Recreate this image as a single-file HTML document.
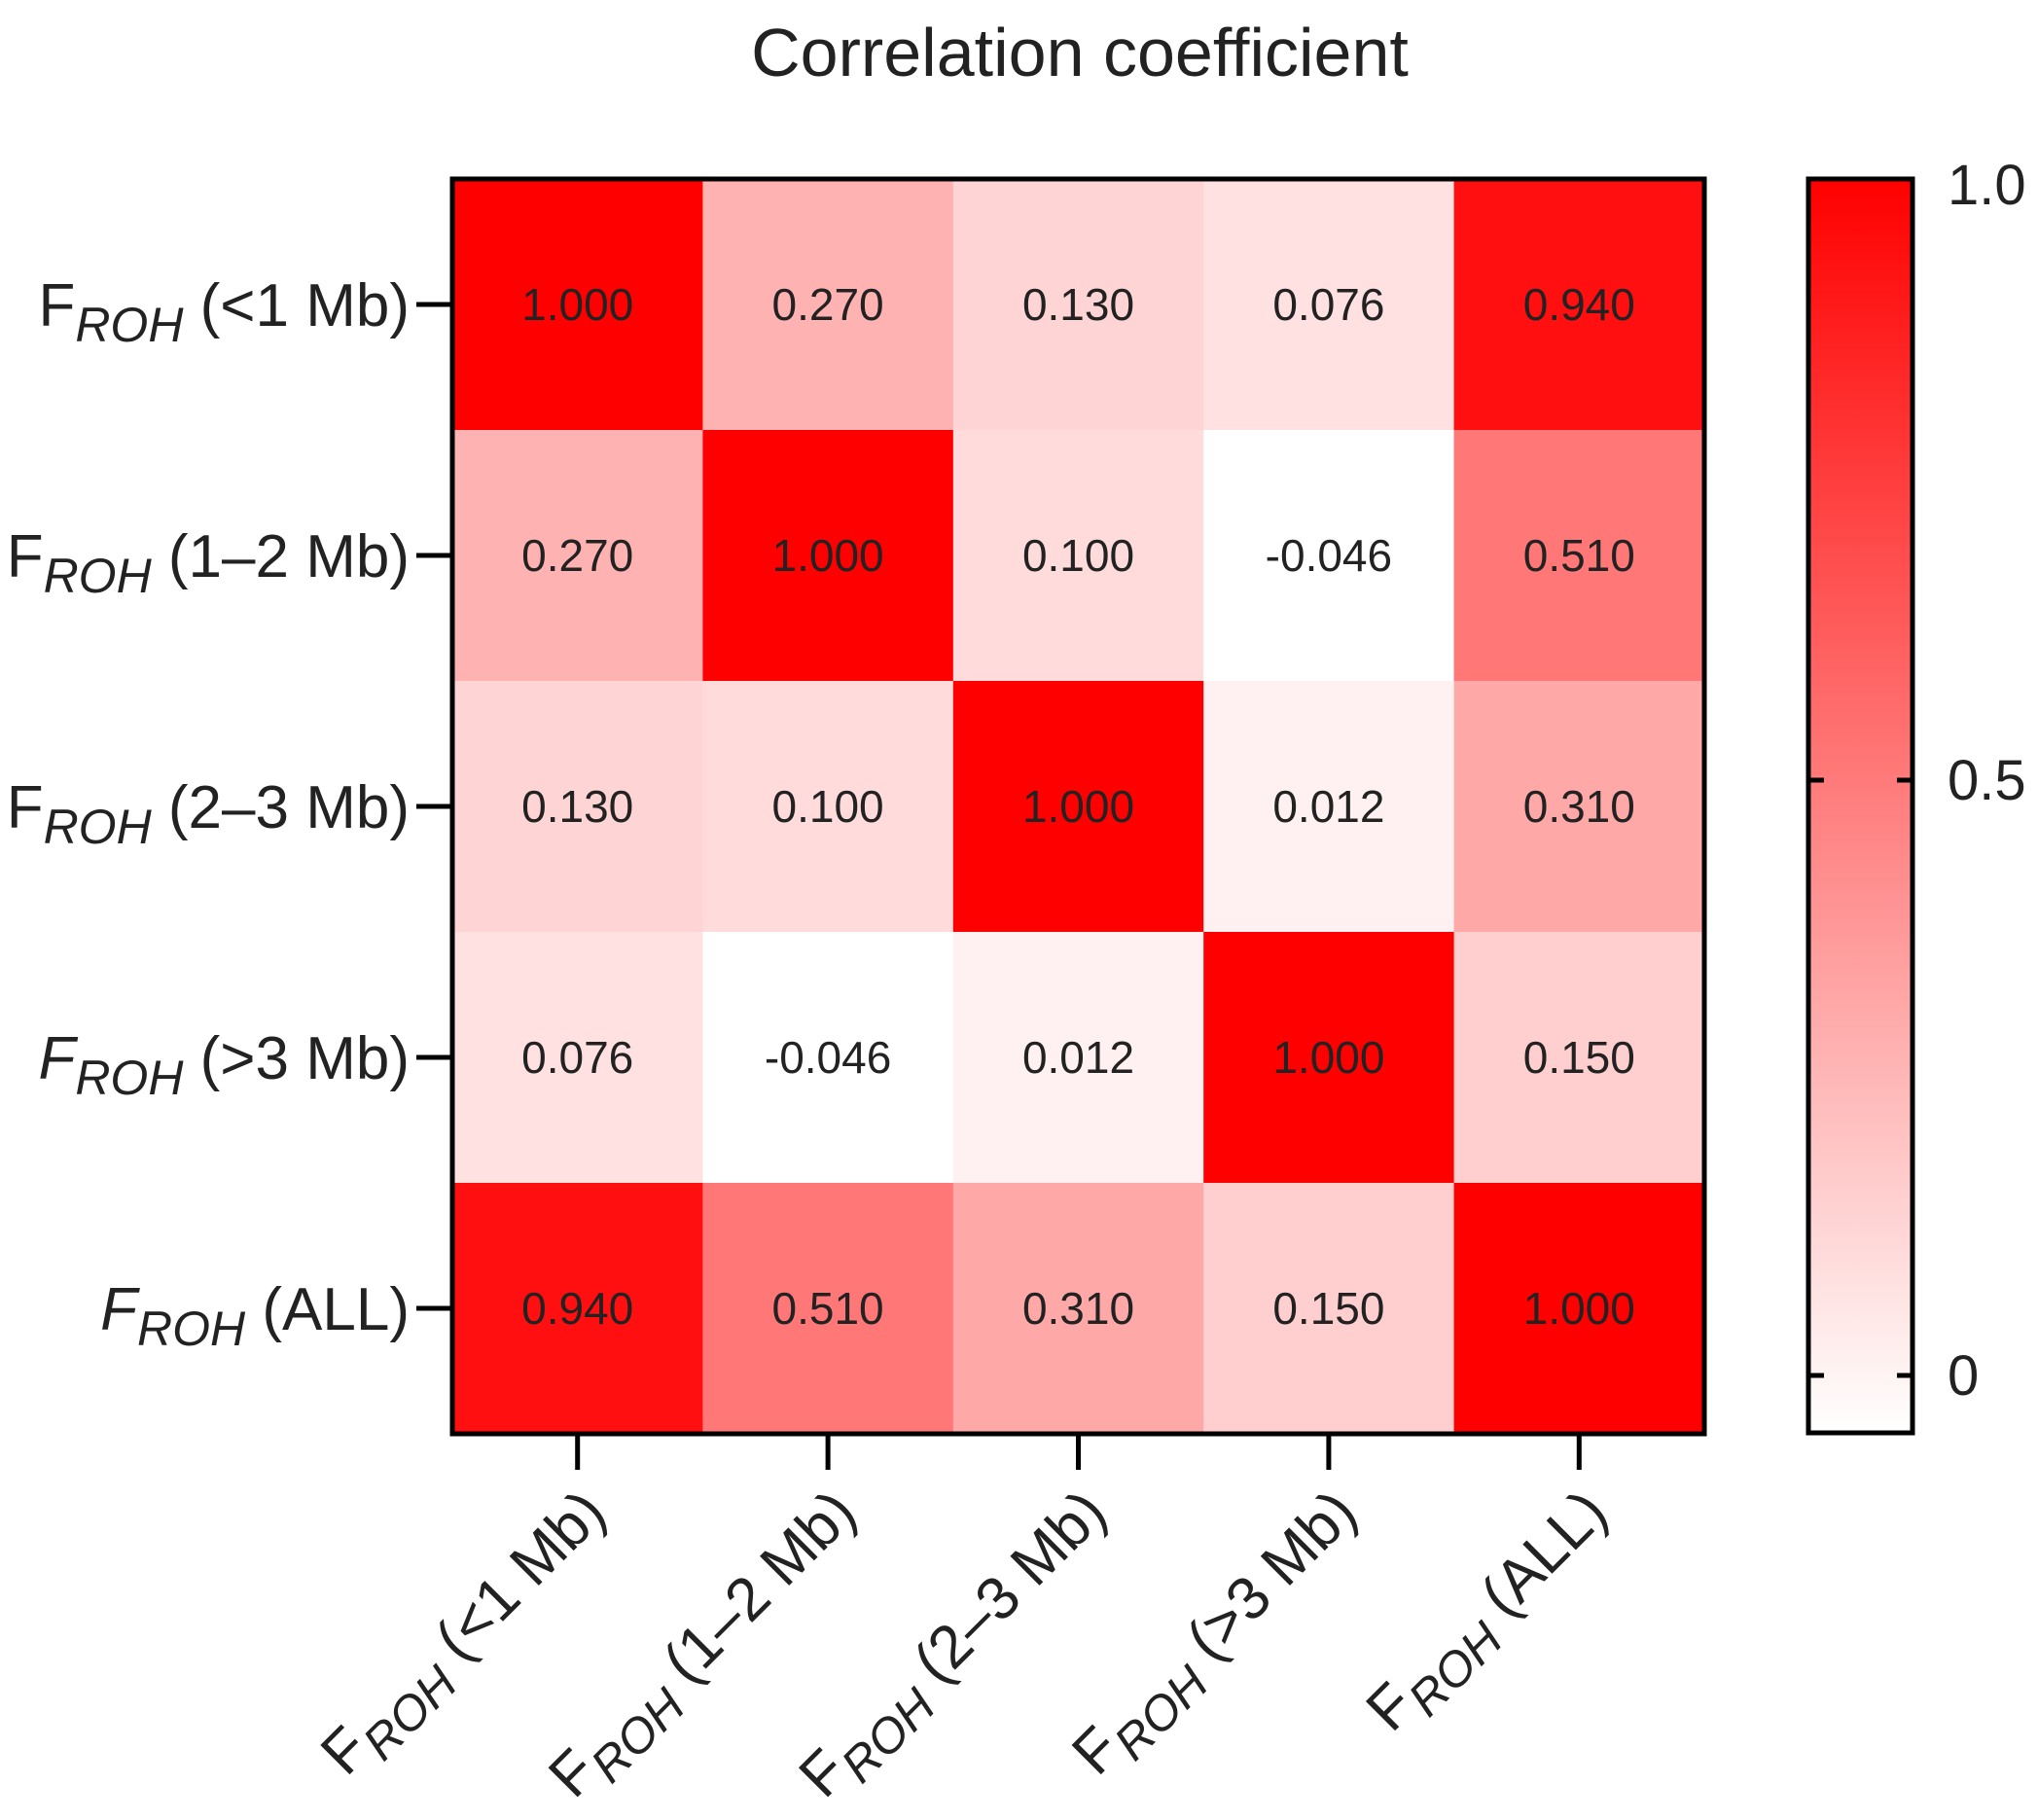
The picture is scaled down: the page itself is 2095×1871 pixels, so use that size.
<!DOCTYPE html>
<html><head><meta charset="utf-8"><style>
html,body{margin:0;padding:0;background:#fff;}
svg{display:block;font-family:"Liberation Sans",Arial,sans-serif;}
</style></head><body>
<svg id="chart" width="2095" height="1871" viewBox="0 0 2095 1871" xmlns="http://www.w3.org/2000/svg">
<defs>
<linearGradient id="cbgrad" x1="0" y1="1" x2="0" y2="0">
<stop offset="0" stop-color="#ffffff"/>
<stop offset="1" stop-color="#ff0000"/>
</linearGradient>
</defs>
<text x="1110" y="78" font-size="70" text-anchor="middle" fill="#222">Correlation coefficient</text>
<g id="cells"></g>
<g id="labels"></g>
</svg>
<script>
const rowLabels = ["(<1 Mb)", "(1–2 Mb)", "(2–3 Mb)", "(>3 Mb)", "(ALL)"];
const italicF = [false, false, false, true, true];
const colLabels = ["(<1 Mb)", "(1–2 Mb)", "(2–3 Mb)", "(>3 Mb)", "(ALL)"];
const row0 = [1.000, 0.270, 0.130, 0.076, 0.940];
const row1 = [0.270, 1.000, 0.100, -0.046, 0.510];
const row2 = [0.130, 0.100, 1.000, 0.012, 0.310];
const row3 = [0.076, -0.046, 0.012, 1.000, 0.150];
const row4 = [0.940, 0.510, 0.310, 0.150, 1.000];
const matrix = [row0, row1, row2, row3, row4];
const cbTicks = [0, 0.5, 1.0];
const cbTickLabels = ["0", "0.5", "1.0"];

const NS = "http://www.w3.org/2000/svg";
const L = 465, R = 1752, T = 184, B = 1474;
const n = 5, cw = (R - L) / n, ch = (B - T) / n;
const vmin = -0.046, vmax = 1.0;
function color(v){ let t=(v-vmin)/(vmax-vmin); t=Math.max(0,Math.min(1,t)); const g=Math.round(255*(1-t)); return `rgb(255,${g},${g})`; }
function xc(i){ return L + cw*(i+0.5); }
function yc(j){ return T + ch*(j+0.5); }
function mk(tag, attrs, parent){ const e=document.createElementNS(NS,tag); for(const k in attrs) e.setAttribute(k,attrs[k]); parent.appendChild(e); return e; }
const svg = document.getElementById('chart');
const cells = document.getElementById('cells');
const labels = document.getElementById('labels');

matrix.forEach((row, j) => row.forEach((v, i) => {
  const r = mk('rect', {x: L+cw*i, y: T+ch*j, width: cw+0.5, height: ch+0.5, fill: color(v)}, cells);
  
  
  const t = mk('text', {x: xc(i), y: yc(j)+16, 'font-size': 46, 'text-anchor': 'middle', fill: '#222'}, cells);
  
  
  t.textContent = v.toFixed(3);
}));

const frame = mk('rect', {x: L, y: T, width: R-L, height: B-T, fill: 'none', stroke: '#000', 'stroke-width': 5}, svg);



rowLabels.forEach((lab, j) => {
  const tk = mk('line', {x1: L-37, x2: L, y1: yc(j), y2: yc(j), stroke: '#000', 'stroke-width': 5}, labels);
  
  
  const t = mk('text', {x: L-44, y: yc(j)+22, 'font-size': 62, 'text-anchor': 'end', fill: '#222'}, labels);
  
  
  const a = mk('tspan', {'font-style': italicF[j] ? 'italic' : 'normal'}, t); a.textContent = 'F';
  const b = mk('tspan', {'font-style': 'italic', 'font-size': 50, dy: 16}, t); b.textContent = 'ROH';
  const c = mk('tspan', {dy: -16}, t); c.textContent = ' ' + lab;
});

colLabels.forEach((lab, i) => {
  const tk = mk('line', {x1: xc(i), x2: xc(i), y1: B, y2: B+37, stroke: '#000', 'stroke-width': 5}, labels);
  
  
  const ax = xc(i)+32, ay = 1558;
  const t = mk('text', {x: ax, y: ay, 'font-size': 62, 'text-anchor': 'end', fill: '#222', transform: `rotate(-45 ${ax} ${ay})`}, labels);
  
  
  const a = mk('tspan', {}, t); a.textContent = 'F';
  const b = mk('tspan', {'font-style': 'italic', 'font-size': 50, dy: 16}, t); b.textContent = 'ROH';
  const c = mk('tspan', {dy: -16}, t); c.textContent = ' ' + lab;
});

// colorbar
const CL = 1859, CR = 1966, CT = 184, CB = 1473;
const c0 = 1414, c1 = 190;
function cy(v){ return c0 + (c1-c0)*v; }
const cbFill = mk('rect', {x: CL, y: CT, width: CR-CL, height: CB-CT, fill: 'url(#cbgrad)', stroke: '#000', 'stroke-width': 5}, svg);


cbTicks.forEach((v, k) => {
  if (v < 1) {
    const t1 = mk('line', {x1: CL, x2: CL+16, y1: cy(v), y2: cy(v), stroke: '#000', 'stroke-width': 5}, svg);
    
    
    const t2 = mk('line', {x1: CR-16, x2: CR, y1: cy(v), y2: cy(v), stroke: '#000', 'stroke-width': 5}, svg);
    
    
  }
  const t = mk('text', {x: 2002, y: cy(v)+20, 'font-size': 58, fill: '#222'}, svg);
  
  
  t.textContent = cbTickLabels[k];
});
</script>
</body></html>
